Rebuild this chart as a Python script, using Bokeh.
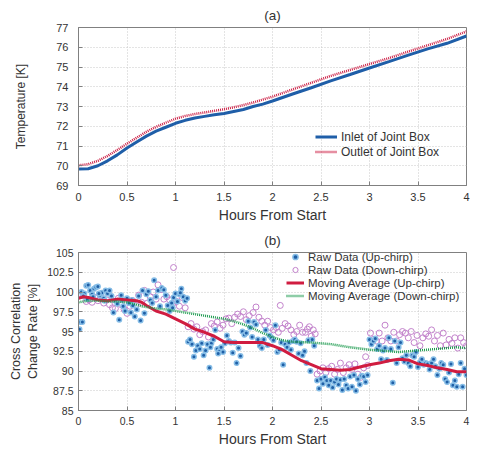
from bokeh.plotting import figure
from bokeh.layouts import column
from bokeh.models import FixedTicker, Legend, LegendItem
from bokeh.embed import file_html
from bokeh.resources import INLINE

# ---------------- data (a) ----------------
t_temp = [0.0, 0.1, 0.2, 0.3, 0.4, 0.5, 0.6, 0.7, 0.8, 0.9, 1.0, 1.1, 1.2, 1.3, 1.4, 1.5,
          1.6, 1.7, 1.8, 1.9, 2.0, 2.2, 2.4, 2.6, 2.8, 3.0, 3.2, 3.4, 3.6, 3.8, 4.0]
inlet = [69.83, 69.85, 70.0, 70.25, 70.55, 70.9, 71.2, 71.5, 71.75, 71.95, 72.15, 72.3, 72.42,
         72.5, 72.58, 72.65, 72.75, 72.85, 73.0, 73.12, 73.28, 73.62, 73.95, 74.3, 74.62, 74.95,
         75.27, 75.6, 75.92, 76.2, 76.57]
outlet = [70.02, 70.08, 70.25, 70.5, 70.8, 71.12, 71.42, 71.72, 71.97, 72.18, 72.38, 72.52, 72.62,
          72.7, 72.78, 72.86, 72.96, 73.07, 73.2, 73.35, 73.5, 73.85, 74.2, 74.55, 74.85, 75.15,
          75.45, 75.78, 76.1, 76.42, 76.8]

# ---------------- data (b) ----------------
up_t = [0.01, 0.02, 0.04, 0.03, 0.06, 0.08, 0.10, 0.12, 0.14, 0.16, 0.18, 0.20, 0.22, 0.24, 0.26, 0.28, 0.30,
        0.05, 0.09, 0.15, 0.21, 0.27,
        0.32, 0.34, 0.36, 0.38, 0.40, 0.42, 0.44, 0.46, 0.48, 0.50, 0.52, 0.54, 0.56, 0.58, 0.60, 0.45, 0.55,
        0.62, 0.64, 0.66, 0.68, 0.70, 0.72, 0.74, 0.76, 0.78, 0.80, 0.82, 0.84, 0.86, 0.88, 0.90,
        0.92, 0.94, 0.96, 0.98, 1.00, 1.02, 1.04, 1.06, 1.08, 1.10, 1.12, 0.97, 1.05,
        1.13, 1.15, 1.17, 1.19, 1.21, 1.23, 1.25, 1.27, 1.29, 1.31, 1.33, 1.35, 1.37, 1.39, 1.41, 1.43, 1.45,
        1.47, 1.49, 1.36, 1.44,
        1.51, 1.53, 1.55, 1.57, 1.59, 1.61, 1.63, 1.65, 1.67, 1.69, 1.71, 1.73, 1.75, 1.77, 1.79,
        1.81, 1.83, 1.85, 1.87, 1.89, 1.91, 1.93, 1.95, 1.97, 1.99, 2.01, 2.03, 2.05, 2.07, 2.09,
        2.11, 2.13, 2.15, 2.17, 2.19, 2.21, 2.23, 2.25, 2.27, 2.29, 2.31, 2.33, 2.35, 2.37, 2.39, 2.41, 2.43,
        2.46, 2.48, 2.50, 2.52, 2.54, 2.56, 2.58, 2.60, 2.62, 2.64, 2.66, 2.68, 2.70, 2.72, 2.74, 2.76, 2.78,
        2.80, 2.82, 2.84, 2.86, 2.88, 2.90, 2.92, 2.94, 2.96, 2.98,
        3.00, 3.02, 3.04, 3.06, 3.08, 3.10, 3.12, 3.14, 3.16, 3.18, 3.20, 3.22, 3.24, 3.26, 3.28, 3.30, 3.32,
        3.34, 3.36, 3.38,
        3.40, 3.42, 3.44, 3.46, 3.48, 3.50, 3.52, 3.54, 3.56, 3.58, 3.60, 3.62, 3.64, 3.66, 3.68,
        3.70, 3.72, 3.74, 3.76, 3.78, 3.80, 3.82, 3.84, 3.86, 3.88, 3.90, 3.92, 3.94, 3.96, 3.98, 4.00]
up_v = [95.3, 96.2, 96.2, 100.0, 99.8, 100.8, 100.9, 100.2, 99.7, 100.4, 100.6, 100.7, 99.6, 99.9, 99.2, 100.2, 99.8,
        99.5, 99.1, 99.4, 99.8, 98.9,
        100.2, 99.5, 97.4, 98.9, 98.5, 96.5, 99.6, 98.2, 97.6, 99.2, 98.6, 97.4, 98.3, 96.9, 97.8, 99.0, 99.0,
        99.5, 96.4, 100.2, 97.3, 99.7, 100.1, 99.0, 98.6, 101.5, 99.4, 100.2, 98.2, 100.5, 100.3, 99.6,
        98.3, 97.6, 98.6, 99.3, 99.8, 98.8, 99.7, 100.4, 99.4, 98.9, 99.2, 98.0, 99.9,
        93.7, 94.0, 93.4, 91.8, 92.6, 93.2, 92.8, 93.5, 92.0, 92.6, 93.4, 90.4, 93.5, 94.0, 95.2, 92.8, 92.5,
        93.0, 92.4, 93.0, 92.2,
        93.5, 94.5, 93.8, 93.6, 92.3, 93.6, 91.0, 92.9, 91.9, 95.0, 94.6, 94.8, 96.3, 95.5, 94.3,
        96.2, 95.9, 94.0, 93.2, 92.9, 94.0, 95.2, 93.3, 94.5, 94.2, 93.9, 95.8, 92.4, 92.7, 93.6,
        90.8, 93.4, 93.0, 93.6, 92.7, 93.8, 94.0, 93.7, 92.2, 93.5, 92.0, 92.5, 91.0, 93.9, 90.0, 94.0, 93.2,
        88.8, 87.8, 89.0, 88.4, 89.2, 88.8, 88.2, 88.8, 87.9, 88.6, 89.0, 88.3, 88.9, 87.6, 89.0, 88.2, 87.8,
        89.3, 88.0, 89.5, 87.5, 89.0, 88.3, 89.4, 89.3, 88.6, 89.5,
        94.0, 93.4, 93.8, 94.1, 92.8, 93.2, 91.5, 92.6, 92.9, 91.4, 94.2, 92.8, 88.5, 93.8, 91.0, 93.0, 93.6,
        91.6, 91.2, 92.0,
        91.0, 90.6, 92.0, 91.8, 92.4, 90.5, 91.1, 91.5, 90.8, 91.0, 90.9, 90.2, 91.0, 91.5, 90.6,
        89.5, 90.3, 91.0, 90.8, 89.0, 88.6, 89.8, 90.9, 88.2, 88.8, 88.0, 89.6, 91.0, 88.0, 90.3, 89.5]

down_t = [0.02, 0.05, 0.08, 0.11, 0.14, 0.17, 0.20, 0.23, 0.26, 0.29, 0.32, 0.35, 0.38, 0.41, 0.44, 0.47, 0.50,
          0.53, 0.56, 0.59, 0.62, 0.65, 0.68, 0.71, 0.74, 0.77, 0.80, 0.82, 0.85, 0.88, 0.91, 0.94, 0.97, 0.98,
          1.01, 1.04, 1.07, 1.10, 1.13, 1.16, 1.19, 1.22, 1.25, 1.28, 1.31, 1.34, 1.37, 1.40, 1.43, 1.46, 1.49,
          1.52, 1.55, 1.58, 1.61, 1.64, 1.67, 1.70, 1.73, 1.76, 1.80, 1.83, 1.86, 1.89, 1.92, 1.95, 1.98,
          2.01, 2.04, 2.06, 2.08, 2.10, 2.13, 2.16, 2.19, 2.22, 2.25, 2.28, 2.31, 2.34, 2.36, 2.38, 2.40, 2.42,
          2.44, 2.46, 2.49, 2.52, 2.55, 2.58, 2.61, 2.64, 2.67, 2.70, 2.73, 2.76, 2.79, 2.82, 2.85, 2.88, 2.91,
          2.94, 2.96, 2.98, 3.01, 3.04, 3.07, 3.10, 3.13, 3.16, 3.19, 3.22, 3.25, 3.28, 3.31, 3.34, 3.37, 3.40,
          3.43, 3.46, 3.49, 3.52, 3.55, 3.58, 3.61, 3.64, 3.67, 3.70, 3.73, 3.76, 3.79, 3.82, 3.85, 3.88, 3.91,
          3.94, 3.97, 4.00]
down_v = [99.8, 99.5, 98.8, 99.0, 98.7, 99.3, 98.9, 99.6, 98.6, 99.0, 98.4, 98.0, 97.9, 99.2, 98.4, 97.8, 97.3,
          98.2, 98.9, 98.3, 99.6, 98.7, 100.2, 98.6, 99.4, 100.0, 99.1, 100.9, 100.3, 99.1, 99.4, 99.0, 98.5, 103.1,
          98.8, 98.2, 99.3, 98.0, 95.6, 96.0, 95.3, 95.6, 94.6, 95.0, 95.2, 94.3, 96.0, 95.7, 96.2, 95.4, 95.8,
          96.6, 96.7, 96.0, 96.8, 97.2, 96.9, 97.5, 96.5, 97.0, 97.4, 98.1, 96.8, 96.3, 95.8, 96.3, 95.5,
          95.2, 95.5, 94.9, 98.3, 95.4, 96.0, 95.7, 95.2, 94.6, 95.0, 95.8, 94.9, 94.9, 95.3, 95.6, 94.4, 95.2,
          94.7, 89.6, 90.0, 90.4, 89.8, 90.3, 90.6, 89.6, 90.2, 91.0, 89.8, 90.4, 90.8, 90.2, 90.9, 89.6, 89.2,
          90.4, 91.8, 90.7, 94.8, 94.0, 93.8, 94.8, 93.8, 95.8, 94.2, 93.8, 94.9, 93.8, 94.6, 95.0, 94.8, 94.2,
          95.0, 93.6, 94.5, 93.2, 94.2, 94.7, 94.4, 95.2, 93.8, 94.5, 93.2, 94.8, 93.3, 94.0, 93.5, 94.2, 92.9,
          94.2, 93.6, 93.2]

ma_t = [0.0, 0.05, 0.1, 0.2, 0.3, 0.4, 0.5, 0.6, 0.65, 0.7, 0.8, 0.9, 1.0, 1.1, 1.2, 1.3, 1.4, 1.5, 1.6,
        1.7, 1.8, 1.9, 2.0, 2.1, 2.2, 2.3, 2.4, 2.5, 2.6, 2.7, 2.8, 2.9, 3.0, 3.1, 3.2, 3.3, 3.4, 3.5,
        3.6, 3.7, 3.8, 3.9, 4.0]
ma_up = [99.2, 99.4, 99.3, 99.0, 98.9, 99.1, 99.0, 98.9, 98.7, 98.3, 97.6, 97.2, 96.6, 96.0, 95.3, 94.9,
         94.4, 93.7, 93.6, 93.6, 93.6, 93.6, 93.2, 92.7, 92.0, 91.3, 90.8, 90.3, 90.2, 90.1, 90.2, 90.5,
         90.8, 91.0, 91.3, 91.5, 91.4, 90.9, 90.7, 90.4, 90.2, 89.9, 89.9]
ma_down = [98.7, 98.8, 98.9, 98.9, 98.8, 98.8, 98.7, 98.4, 98.2, 98.1, 97.9, 97.8, 97.6, 97.4, 97.2, 97.0,
           96.8, 96.6, 96.3, 95.9, 95.4, 94.8, 94.3, 93.9, 93.7, 93.65, 93.6, 93.5, 93.4, 93.2, 93.0, 92.85,
           92.7, 92.6, 92.5, 92.4, 92.5, 92.6, 92.7, 92.8, 92.9, 93.0, 92.9]

x_ticks = [0, 0.5, 1, 1.5, 2, 2.5, 3, 3.5, 4]
x_labels = ["0", "0.5", "1", "1.5", "2", "2.5", "3", "3.5", "4"]
ya_ticks = [69, 70, 71, 72, 73, 74, 75, 76, 77]
yb_ticks = [85, 87.5, 90, 92.5, 95, 97.5, 100, 102.5, 105]
yb_labels = ["85", "87.5", "90", "92.5", "95", "97.5", "100", "102.5", "105"]

FONT = "Liberation Sans"
TXT = "#333333"


def style(p, yticks, ylabels, tick_size):
    p.xaxis.ticker = FixedTicker(ticks=x_ticks)
    p.xaxis.major_label_overrides = {t: l for t, l in zip(x_ticks, x_labels)}
    p.yaxis.ticker = FixedTicker(ticks=yticks)
    p.yaxis.major_label_overrides = {t: l for t, l in zip(yticks, ylabels)}
    for ax in (p.xaxis, p.yaxis):
        ax.axis_line_color = "#808080"
        ax.major_tick_line_color = "#808080"
        ax.major_tick_in = 4
        ax.major_tick_out = 0
        ax.minor_tick_line_color = None
        ax.major_label_text_font = FONT
        ax.major_label_text_font_size = tick_size
        ax.major_label_text_color = TXT
        ax.axis_label_text_font = FONT
        ax.axis_label_text_font_style = "normal"
        ax.axis_label_text_color = TXT
    p.xaxis.axis_label_text_font_size = "14px"
    p.grid.grid_line_color = "#c8c8c8"
    p.grid.grid_line_dash = "1 2"
    p.grid.grid_line_width = 1
    p.outline_line_color = "#808080"
    p.outline_line_width = 1
    p.title.align = "center"
    p.title.text_font = FONT
    p.title.text_font_size = "13.5px"
    p.title.text_font_style = "normal"
    p.title.text_color = TXT
    p.background_fill_color = "white"
    p.border_fill_color = "white"


# ---------------- figure (a) ----------------
p1 = figure(width=471, height=225, x_range=(0, 4), y_range=(69, 77),
            output_backend="svg", toolbar_location=None, title="(a)",
            min_border_left=78, min_border_right=5, min_border_top=27, min_border_bottom=38)
style(p1, ya_ticks, [str(v) for v in ya_ticks], "11px")
p1.title.standoff = 10
p1.xaxis.axis_label = "Hours From Start"
p1.xaxis.major_label_standoff = 7
p1.xaxis.axis_label_standoff = 3
p1.yaxis.axis_label = "Temperature [K]"
p1.yaxis.axis_label_text_font_size = "12px"
p1.yaxis.major_label_standoff = 10
p1.yaxis.axis_label_standoff = 25
r_in = p1.line(t_temp, inlet, line_color="#1f5ea8", line_width=3)
r_out = p1.line(t_temp, outlet, line_color="#cc1f45", line_width=2.5, line_dash="1 1")
leg1 = Legend(items=[LegendItem(label="Inlet of Joint Box", renderers=[r_in]),
                     LegendItem(label="Outlet of Joint Box", renderers=[r_out])],
              location=(237, 26), padding=0, margin=0, spacing=0,
              glyph_width=22, glyph_height=15, label_height=15, label_standoff=4,
              border_line_color=None, background_fill_alpha=0,
              label_text_font=FONT, label_text_font_size="12px",
              label_text_color=TXT)
p1.add_layout(leg1)

# ---------------- figure (b) ----------------
p2 = figure(width=471, height=224, x_range=(0, 4), y_range=(85, 105),
            output_backend="svg", toolbar_location=None, title="(b)",
            min_border_left=78, min_border_right=5, min_border_top=27, min_border_bottom=36)
style(p2, yb_ticks, yb_labels, "10.5px")
p2.title.standoff = 9
p2.xaxis.axis_label = "Hours From Start"
p2.xaxis.major_label_standoff = 6
p2.xaxis.axis_label_standoff = 3
p2.yaxis.axis_label = "Cross Correlation\nChange Rate [%]"
p2.yaxis.axis_label_text_font_size = "12.5px"
p2.yaxis.major_label_standoff = 5
p2.yaxis.axis_label_standoff = 4
r_down = p2.scatter(down_t, down_v, marker="circle", size=6, fill_color=None,
                    line_color="#c383cc", line_width=1)
r_up = p2.scatter(up_t, up_v, marker="circle", size=4.5, fill_color="#1f5fa6",
                  line_color="#86bde6", line_width=1.5)
r_ma_up = p2.line(ma_t, ma_up, line_color="#d01c40", line_width=3)
r_ma_dn = p2.line(ma_t, ma_down, line_color="#1c9a4e", line_width=2.5, line_dash="1 1")
leg2 = Legend(items=[LegendItem(label="Raw Data (Up-chirp)", renderers=[r_up]),
                     LegendItem(label="Raw Data (Down-chirp)", renderers=[r_down]),
                     LegendItem(label="Moving Average (Up-chirp)", renderers=[r_ma_up]),
                     LegendItem(label="Moving Average (Down-chirp)", renderers=[r_ma_dn])],
              location=(208, 108), padding=0, margin=0, spacing=0,
              glyph_width=18, glyph_height=13, label_height=13, label_standoff=4,
              border_line_color=None, background_fill_alpha=0,
              label_text_font=FONT, label_text_font_size="11.5px",
              label_text_color=TXT)
p2.add_layout(leg2)

layout = column(p1, p2, spacing=0)
open("out.html", "w").write(file_html(layout, INLINE))
